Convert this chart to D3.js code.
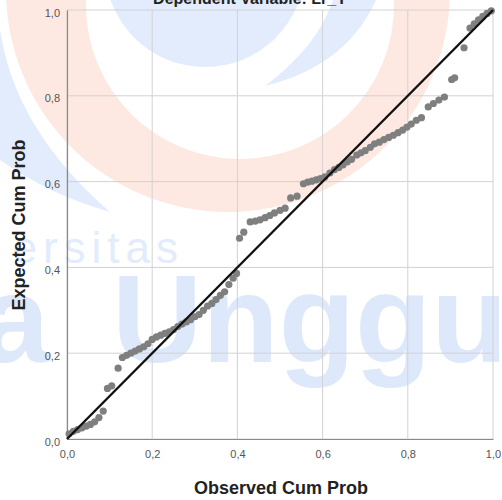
<!DOCTYPE html>
<html>
<head>
<meta charset="utf-8">
<script src="https://cdn.jsdelivr.net/npm/d3@7"></script>
<style>
  html, body { margin: 0; padding: 0; background: #fff; }
  #graph-container { width: 502px; height: 500px; overflow: hidden; }
  text { font-family: "Liberation Sans", Arial, sans-serif; }
</style>
</head>
<body>
<div id="graph-container"></div>
<script>
// Observed vs expected cumulative probabilities
const observedProb = [
  0.005, 0.015, 0.025, 0.035, 0.045, 0.055, 0.065, 0.075, 0.085,
  0.095, 0.105, 0.120, 0.130, 0.140, 0.150, 0.160, 0.170, 0.180, 0.190,
  0.200, 0.210, 0.220, 0.230, 0.240, 0.250, 0.260, 0.270, 0.280, 0.290,
  0.300, 0.310, 0.320, 0.330, 0.340, 0.350, 0.360, 0.370, 0.380, 0.390, 0.398,
  0.405, 0.415, 0.430, 0.442, 0.453, 0.465, 0.476, 0.487, 0.500, 0.512,
  0.525, 0.540, 0.555, 0.565, 0.575, 0.585, 0.595, 0.605, 0.617, 0.628,
  0.638, 0.648, 0.658, 0.668, 0.680, 0.690, 0.700, 0.712, 0.722, 0.733,
  0.744, 0.755, 0.766, 0.777, 0.788, 0.798, 0.808, 0.820, 0.832, 0.848,
  0.860, 0.873, 0.886, 0.903, 0.910, 0.932, 0.946, 0.956, 0.966, 0.976,
  0.986, 0.996
];
const expectedProb = [
  0.012, 0.018, 0.022, 0.026, 0.030, 0.034, 0.040, 0.050, 0.065,
  0.118, 0.124, 0.165, 0.190, 0.195, 0.200, 0.205, 0.210, 0.215, 0.222,
  0.232, 0.238, 0.242, 0.246, 0.250, 0.255, 0.262, 0.268, 0.273, 0.278,
  0.285, 0.290, 0.300, 0.310, 0.316, 0.325, 0.335, 0.343, 0.360, 0.375, 0.386,
  0.468, 0.482, 0.506, 0.508, 0.511, 0.516, 0.521, 0.527, 0.533, 0.538,
  0.562, 0.566, 0.595, 0.599, 0.601, 0.604, 0.607, 0.611, 0.620, 0.628,
  0.633, 0.639, 0.646, 0.652, 0.662, 0.667, 0.672, 0.680, 0.688, 0.692,
  0.698, 0.703, 0.708, 0.714, 0.720, 0.727, 0.734, 0.743, 0.749, 0.774,
  0.782, 0.790, 0.797, 0.838, 0.842, 0.912, 0.958, 0.968, 0.977, 0.985,
  0.992, 0.998
];
const tickValues = [0, 0.2, 0.4, 0.6, 0.8, 1.0];

const margin = { top: 10, right: 9, bottom: 61, left: 67 };
const width = 502 - margin.left - margin.right;
const height = 500 - margin.top - margin.bottom;

const root = d3.select("#graph-container")
  .append("svg")
  .attr("width", 502)
  .attr("height", 500);

// watermark behind the chart (university logo)
const circlePath = (cx, cy, r) => {
  const p = d3.path();
  p.moveTo(cx + r, cy);
  p.arc(cx, cy, r, 0, 2 * Math.PI);
  p.closePath();
  return p.toString();
};
const wm = root.append("g").attr("class", "watermark");
wm.append("path")
  .attr("d", circlePath(228, -10, 222) + circlePath(240, 5, 154))
  .attr("fill-rule", "evenodd")
  .attr("fill", "#fde9e1");
wm.append("circle")
  .attr("cx", 205).attr("cy", -33).attr("r", 100)
  .attr("fill", "#e2ecfc");
wm.append("path")
  .attr("d", "M333,0 L376,0 Q346,66 265,86 Q318,46 333,0 Z")
  .attr("fill", "#e2ecfc");
wm.append("path")
  .attr("d", "M0,30 Q15,130 110,212 Q50,195 0,160 Z")
  .attr("fill", "#e2ecfc");
wm.append("text")
  .attr("x", 184).attr("y", 263)
  .attr("text-anchor", "end")
  .attr("font-size", "44px")
  .attr("letter-spacing", "6px")
  .attr("fill", "#e2ecfc")
  .text("ersitas");
wm.append("text")
  .attr("x", -20).attr("y", 362)
  .attr("font-size", "125px").attr("font-weight", "bold")
  .attr("fill", "#dde8fb")
  .text("a");
wm.append("text")
  .attr("x", 112).attr("y", 362)
  .attr("font-size", "125px").attr("font-weight", "bold")
  .attr("fill", "#dde8fb")
  .text("Unggul");

const svg = root.append("g")
  .attr("transform", `translate(${margin.left}, ${margin.top})`);

const xScale = d3.scaleLinear().domain([0, 1]).range([0, width]);
const yScale = d3.scaleLinear().domain([0, 1]).range([height, 0]);
const fmt = d => d3.format(".1f")(d).replace(".", ",");

// grid
svg.append("g")
  .selectAll("line.vg")
  .data(tickValues)
  .enter().append("line")
  .attr("x1", d => xScale(d)).attr("x2", d => xScale(d))
  .attr("y1", 0).attr("y2", height)
  .attr("stroke", "#d2d2d2").attr("stroke-width", 1);
svg.append("g")
  .selectAll("line.hg")
  .data(tickValues)
  .enter().append("line")
  .attr("y1", d => yScale(d)).attr("y2", d => yScale(d))
  .attr("x1", 0).attr("x2", width)
  .attr("stroke", "#d2d2d2").attr("stroke-width", 1);

// axes
const xAxis = d3.axisBottom(xScale).tickValues(tickValues).tickFormat(fmt).tickSize(0).tickPadding(11);
const yAxis = d3.axisLeft(yScale).tickValues(tickValues).tickFormat(fmt).tickSize(0).tickPadding(7);

const gx = svg.append("g")
  .attr("transform", `translate(0, ${height})`)
  .call(xAxis);
const gy = svg.append("g").call(yAxis);
[gx, gy].forEach(g => {
  g.select(".domain").attr("stroke", "#8a8a8a").attr("stroke-width", 1.2);
  g.selectAll("text")
    .attr("font-family", "'Liberation Sans', Arial, sans-serif")
    .attr("font-size", "11px")
    .attr("fill", "#555");
});
gy.selectAll("text").attr("dy", "0.55em");

// points
svg.selectAll(".dot")
  .data(observedProb.map((d, i) => ({ obs: d, exp: expectedProb[i] })))
  .enter()
  .append("circle")
  .attr("class", "dot")
  .attr("cx", d => xScale(d.obs))
  .attr("cy", d => yScale(d.exp))
  .attr("r", 3.6)
  .attr("fill", "#7f7f7f");

// reference line
svg.append("line")
  .attr("x1", xScale(0)).attr("y1", yScale(0))
  .attr("x2", xScale(1)).attr("y2", yScale(1))
  .attr("stroke", "#111").attr("stroke-width", 2.4);

// titles
root.append("text")
  .attr("x", 250).attr("y", 4)
  .attr("text-anchor", "middle")
  .attr("font-size", "16px").attr("font-weight", "bold")
  .attr("fill", "#222")
  .text("Dependent Variable: Lr_Y");

root.append("text")
  .attr("x", 281).attr("y", 494)
  .attr("text-anchor", "middle")
  .attr("font-size", "18px").attr("font-weight", "bold")
  .attr("fill", "#222")
  .text("Observed Cum Prob");

root.append("text")
  .attr("transform", "translate(25, 225) rotate(-90)")
  .attr("text-anchor", "middle")
  .attr("font-size", "18px").attr("font-weight", "bold")
  .attr("fill", "#222")
  .text("Expected Cum Prob");
</script>
</body>
</html>
